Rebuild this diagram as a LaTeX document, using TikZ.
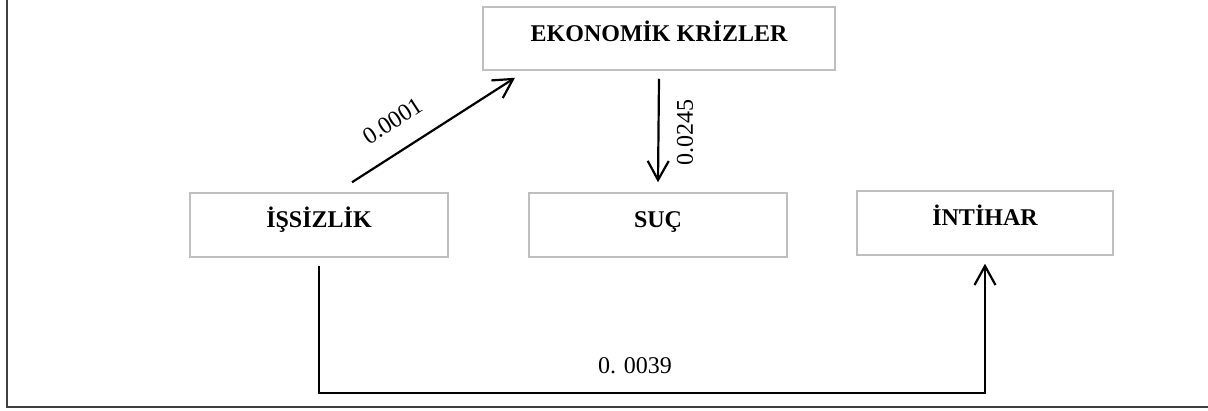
\documentclass[tikz,border=0pt]{standalone}
\usepackage{fontspec}
\setmainfont{Liberation Serif}
\usetikzlibrary{arrows.meta}
\definecolor{boxgray}{HTML}{BFBFBF}
\definecolor{framegray}{HTML}{404040}
\begin{document}
\begin{tikzpicture}[x=1pt,y=-1pt,
  box/.style={draw=boxgray, line width=1.5pt, inner sep=0pt,
    text height=16pt, text depth=11pt, font=\fontsize{24}{28}\selectfont\bfseries},
  conn/.style={line width=2.2pt, -{Straight Barb[length=19pt,width=21pt,line width=2.2pt]}},
  lbl/.style={font=\fontsize{24}{28}\selectfont, inner sep=0pt}]
\useasboundingbox (0,0) rectangle (1208,410);
\draw[framegray, line width=1.5pt] (7,0) -- (7,407) -- (1208,407);
\node[box, minimum width=352pt, minimum height=63pt] (eko) at (659,38.5) {EKONOMİK KRİZLER};
\node[box, minimum width=258pt, minimum height=64pt] (iss) at (319,225) {İŞSİZLİK};
\node[box, minimum width=258pt, minimum height=64pt] (suc) at (658,225) {SUÇ};
\node[box, minimum width=256pt, minimum height=64pt] (int) at (985,223) {İNTİHAR};
\draw[conn] ([xshift=33pt,yshift=10pt]iss.north) -- ([xshift=-144pt,yshift=-7pt]eko.south);
\node[lbl, rotate=33] (l1) at (393,121) {0.0001};
\draw[conn] ([yshift=-8pt]eko.south) -- ([yshift=10pt]suc.north);
\node[lbl, rotate=90] (l2) at (685,132) {0.0245};
\draw[conn] ([yshift=-8pt]iss.south) |- ([yshift=-137pt]int.south) -- ([yshift=-8pt]int.south);
\node[lbl] (l3) at (635,366) {0. 0039};
\end{tikzpicture}
\end{document}
